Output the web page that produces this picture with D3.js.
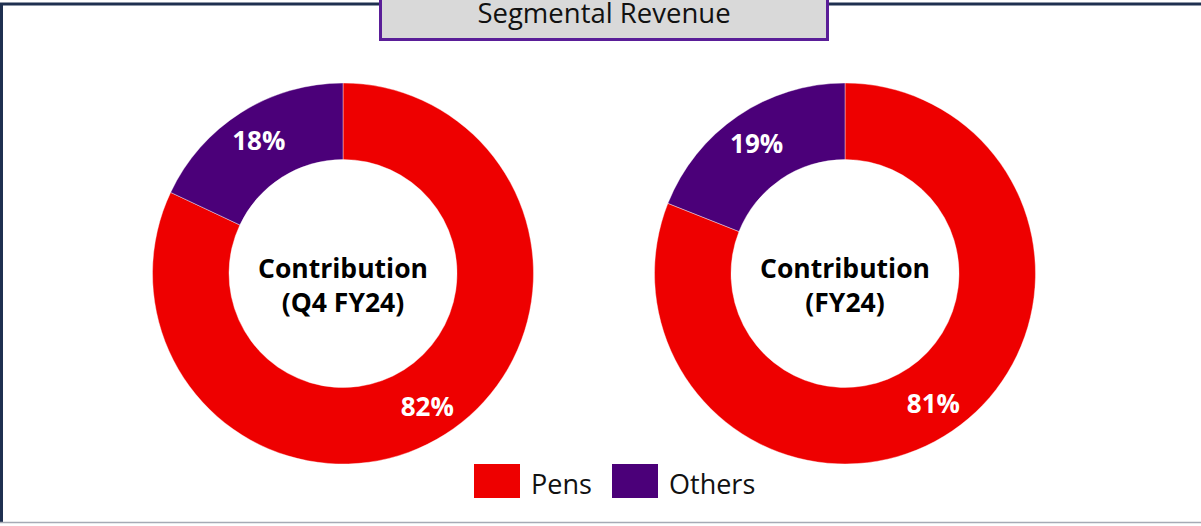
<!DOCTYPE html>
<html>
<head>
<meta charset="utf-8">
<script src="https://cdn.jsdelivr.net/npm/d3@7"></script>
<style>
  html, body { margin: 0; padding: 0; background: #fff; }
  svg { display: block; font-family: "Open Sans", "Noto Sans", sans-serif; }
</style>
</head>
<body>
<div id="chart"></div>
<script>
const SEGMENTS = ['Pens', 'Others'];
const SEG_COLORS = ['#ee0000', '#4b0079'];
const Q4_VALUES = [82, 18];
const FY_VALUES = [81, 19];
const CENTER_LABELS = [['Contribution', '(Q4 FY24)'], ['Contribution', '(FY24)']];
const TITLE = 'Segmental Revenue';

const W = 1201, H = 526;

const svg = d3.select('#chart').append('svg')
    .attr('width', W)
    .attr('height', H);

// outer frame
svg.append('line').attr('x1', 0).attr('x2', W).attr('y1', 4).attr('y2', 4)
    .attr('stroke', '#1f3050').attr('stroke-width', 3);
svg.append('line').attr('x1', 1.5).attr('x2', 1.5).attr('y1', 3).attr('y2', 523)
    .attr('stroke', '#1f3050').attr('stroke-width', 3);
svg.append('line').attr('x1', 0).attr('x2', W).attr('y1', 522.5).attr('y2', 522.5)
    .attr('stroke', '#a6aab5').attr('stroke-width', 1.5);

// title box
svg.append('rect')
    .attr('x', 380.5).attr('y', -10)
    .attr('width', 447).attr('height', 49.5)
    .attr('fill', '#d9d9d9')
    .attr('stroke', '#5a1e98').attr('stroke-width', 3);
svg.append('text')
    .attr('x', 604).attr('y', 23)
    .attr('text-anchor', 'middle')
    .style('font-size', '27.5px')
    .style('fill', '#111')
    .text(TITLE);

const color = d3.scaleOrdinal().domain(SEGMENTS).range(SEG_COLORS);
const pie = d3.pie().sort(null).value(d => d.value);
const outerR = 190.5, innerR = 114;
const arc = d3.arc().innerRadius(innerR).outerRadius(outerR);
const labelArc = d3.arc().innerRadius(innerR + 5).outerRadius(outerR + 5);

const donuts = [
    { cx: 343, cy: 273.5, values: Q4_VALUES, center: CENTER_LABELS[0] },
    { cx: 845, cy: 273.5, values: FY_VALUES, center: CENTER_LABELS[1] },
];

donuts.forEach(dn => {
    const data = SEGMENTS.map((s, i) => ({ name: s, value: dn.values[i] }));
    const g = svg.append('g').attr('transform', `translate(${dn.cx},${dn.cy})`);
    const arcs = pie(data);

    g.selectAll('path.slice')
        .data(arcs)
        .join('path')
        .attr('class', 'slice')
        .attr('d', arc)
        .attr('fill', d => color(d.data.name))
        .attr('stroke', '#fff')
        .attr('stroke-width', 0.4);

    g.selectAll('text.pct')
        .data(arcs)
        .join('text')
        .attr('class', 'pct')
        .attr('transform', d => `translate(${labelArc.centroid(d)})`)
        .attr('text-anchor', 'middle')
        .attr('dy', '0.36em')
        .style('font-size', '26px')
        .style('font-weight', 700)
        .style('fill', '#fff')
        .text(d => d.data.value + '%');

    g.selectAll('text.center')
        .data(dn.center)
        .join('text')
        .attr('class', 'center')
        .attr('x', 0)
        .attr('y', (d, i) => i * 34 + 4)
        .attr('text-anchor', 'middle')
        .style('font-size', '26.5px')
        .style('font-weight', 700)
        .style('fill', '#000')
        .text(d => d);
});

// legend
const legend = svg.append('g').attr('class', 'legend');
const legendX = [474, 612];
SEGMENTS.forEach((s, i) => {
    legend.append('rect')
        .attr('x', legendX[i]).attr('y', 464)
        .attr('width', 46).attr('height', 34)
        .attr('fill', color(s));
    legend.append('text')
        .attr('x', legendX[i] + 57).attr('y', 494)
        .style('font-size', '27px')
        .style('fill', '#111')
        .text(s);
});
</script>
</body>
</html>
